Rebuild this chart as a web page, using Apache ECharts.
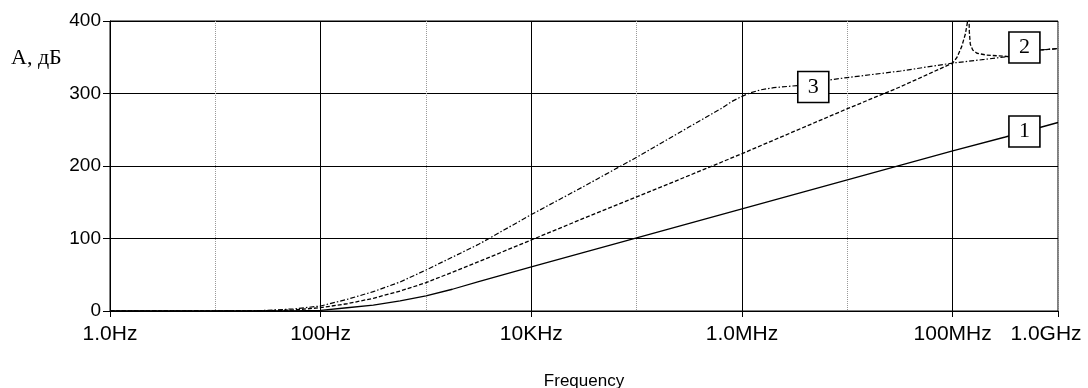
<!DOCTYPE html>
<html>
<head>
<meta charset="utf-8">
<script src="https://cdn.jsdelivr.net/npm/echarts@6/dist/echarts.min.js"></script>
<style>html,body{margin:0;padding:0;background:#fff}#c{width:1088px;height:388px}</style>
</head>
<body>
<div id="c"></div>
<script>
// Curve 1 (solid)
var freq1 = [1, 10, 30, 55, 100, 178, 316, 568, 1e3, 1.78e3, 3.16e3, 1e4, 3.16e4, 1e5, 3.16e5, 1e6, 3.16e6, 1e7, 3.16e7, 1e8, 3.16e8, 1e9];
var amp1  = [0, 0, 0, 0.2, 1, 4.5, 8, 14, 21, 30, 40.5, 61, 81, 101, 121, 141, 161, 181, 201, 221, 240, 260];
// Curve 2 (dashed, with resonance)
var freq2 = [1, 10, 30, 55, 100, 178, 316, 568, 1e3, 3.16e3, 1e4, 3.16e4, 1e5, 3.16e5, 1e6, 3.16e6, 1e7, 3.16e7, 1e8, 1.1e8, 1.22e8, 1.32e8, 1.38e8, 1.41e8, 1.44e8, 1.47e8, 1.55e8, 1.7e8, 2.1e8, 3.4e8, 6.8e8, 1e9];
var amp2  = [0, 0, 0.3, 1.4, 4.6, 10, 17.5, 27.6, 39, 68, 98, 128, 157.5, 187, 217, 248, 279, 309, 342, 350, 365, 382, 398, 440, 385, 368, 360, 355.5, 353, 351, 360, 362];
// Curve 3 (dash-dot)
var freq3 = [1, 10, 27, 55, 100, 178, 316, 568, 1e3, 3.16e3, 1e4, 3.16e4, 1e5, 3.16e5, 6.3e5, 8e5, 1e6, 1.2e6, 1.5e6, 2e6, 3.4e6, 6.7e6, 1e7, 3.2e7, 1e8, 2e8, 3.4e8, 6.8e8, 1e9];
var amp3  = [0, 0, 0.5, 2.8, 6.9, 16, 26.7, 40, 56.5, 92, 133, 172, 212, 254, 279, 289, 296, 301, 305, 308, 311, 318.6, 322, 331, 342, 347, 351, 360, 362];

var xTickValues = [1, 100, 1e4, 1e6, 1e8, 1e9];
var xTickLabels = ['1.0Hz', '100Hz', '10KHz', '1.0MHz', '100MHz', '1.0GHz'];
var majorLines = [100, 1e4, 1e6, 1e8];

function pairs(f, a) { return f.map(function (v, i) { return [v, a[i]]; }); }
function boxPoint(name, coord) { return { name: name, coord: coord, value: name }; }
var boxStyle = {
  symbol: 'rect', symbolSize: [31, 31],
  itemStyle: { color: '#fff', borderColor: '#000', borderWidth: 1.6 },
  label: { show: true, position: 'inside', color: '#000', fontFamily: 'Liberation Serif', fontSize: 22,
           formatter: function (p) { return p.name; } }
};

var chart = echarts.init(document.getElementById('c'));
var font = 'Liberation Sans';
chart.setOption({
  animation: false,
  title: { text: 'A, дБ', left: 11, top: 47, padding: 0,
    textStyle: { fontFamily: 'Liberation Serif', fontSize: 22, fontWeight: 'normal', color: '#000' } },
  grid: { left: 110, right: 30, top: 21, bottom: 77, containLabel: false, outerBoundsMode: 'none',
    show: true, borderColor: '#000', borderWidth: 1, backgroundColor: 'transparent' },
  xAxis: [{
    type: 'log', logBase: 10, min: 1, max: 1e9,
    name: 'Frequency', nameLocation: 'middle', nameGap: 62,
    nameTextStyle: { fontFamily: font, fontSize: 17, color: '#000' },
    axisLine: { show: true, lineStyle: { color: '#000', width: 1 } },
    axisTick: { show: true, length: 6, customValues: xTickValues, lineStyle: { color: '#000' } },
    axisLabel: { customValues: xTickValues, margin: 13, fontFamily: font, fontSize: 21, color: '#000',
      showMinLabel: true, showMaxLabel: true,
      formatter: function (v) {
        var lv = Math.log10(v);
        for (var i = 0; i < xTickValues.length; i++) {
          if (Math.abs(Math.log10(xTickValues[i]) - lv) < 1e-6) {
            return i === xTickValues.length - 1 ? '{g|' + xTickLabels[i] + '}' : xTickLabels[i];
          }
        }
        return '';
      },
      rich: { g: { fontFamily: font, fontSize: 21, color: '#000', padding: [0, 24, 0, 0] } }
    },
    splitLine: { show: false }
  }, {
    type: 'log', logBase: 10, min: 1, max: 1e9, position: 'bottom',
    axisLine: { show: false }, axisTick: { show: false }, axisLabel: { show: false },
    splitLine: { show: true, lineStyle: { color: '#999', width: 1, type: [1, 1] } }
  }],
  yAxis: {
    type: 'value', min: 0, max: 400, interval: 100,
    axisLine: { show: true, lineStyle: { color: '#000', width: 1 } },
    axisTick: { show: true, length: 7, lineStyle: { color: '#000' } },
    axisLabel: { margin: 9, fontFamily: font, fontSize: 19, color: '#000' },
    splitLine: { show: true, lineStyle: { color: '#000', width: 1 } }
  },
  series: [{
    type: 'line', name: '1', data: pairs(freq1, amp1), showSymbol: false, symbol: 'none',
    lineStyle: { color: '#000', width: 1.3, type: 'solid' },
    markLine: { silent: true, symbol: 'none', label: { show: false },
      lineStyle: { color: '#000', width: 1, type: 'solid' },
      data: majorLines.map(function (v) { return { xAxis: v }; }) },
    markPoint: Object.assign({ data: [boxPoint('1', [4.8e8, 247.6])] }, boxStyle)
  }, {
    type: 'line', name: '2', data: pairs(freq2, amp2), showSymbol: false, symbol: 'none', clip: true,
    lineStyle: { color: '#000', width: 1.3, type: [4, 2] },
    markPoint: Object.assign({ data: [boxPoint('2', [4.8e8, 363.4])] }, boxStyle)
  }, {
    type: 'line', name: '3', data: pairs(freq3, amp3), showSymbol: false, symbol: 'none', clip: true,
    lineStyle: { color: '#000', width: 1.2, type: [5, 2, 1.5, 2] },
    markPoint: Object.assign({ data: [boxPoint('3', [4.75e6, 309])] }, boxStyle)
  }]
});
</script>
</body>
</html>
